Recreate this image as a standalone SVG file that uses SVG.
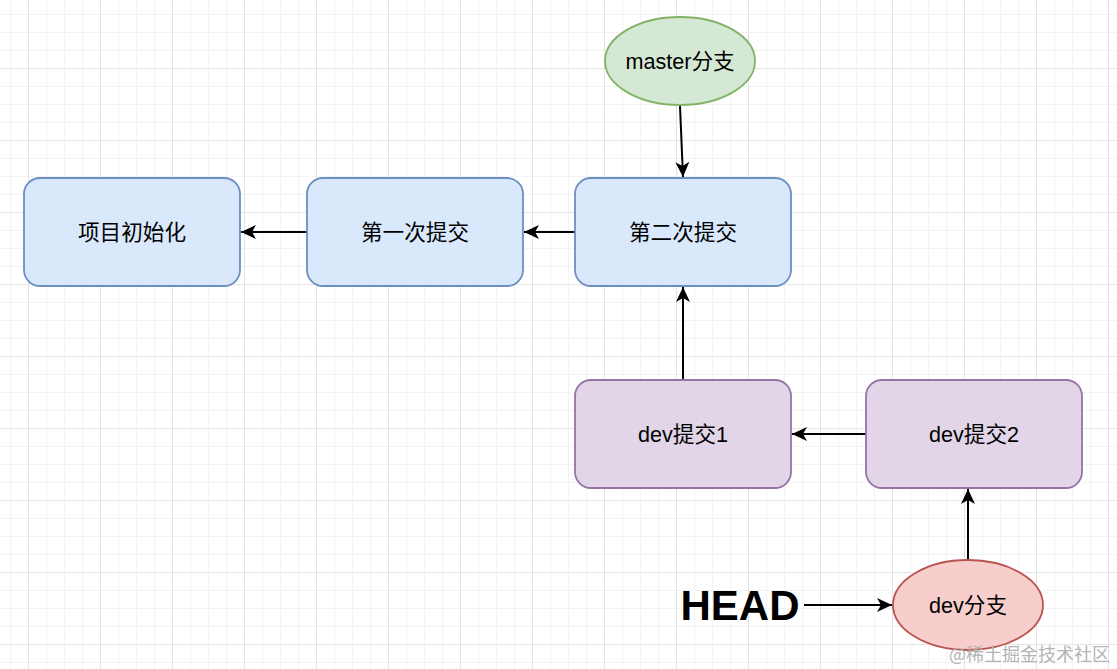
<svg xmlns="http://www.w3.org/2000/svg" width="1117" height="669" viewBox="0 0 1117 669">
<defs>
<pattern id="minor" x="10" y="14" width="18" height="18" patternUnits="userSpaceOnUse">
<path d="M0 0H18M0 0V18" fill="none" stroke="#f0f0f0" stroke-width="1.5"/>
</pattern>
<pattern id="major" x="28" y="-4" width="72" height="72" patternUnits="userSpaceOnUse">
<path d="M0 0H72M0 0V72" fill="none" stroke="#d9d9d9" stroke-width="1.2"/>
</pattern>
<marker id="arr" viewBox="0 0 15 14" refX="15" refY="7" markerWidth="15" markerHeight="14" markerUnits="userSpaceOnUse" orient="auto">
<path d="M0 0L15 7L0 14L4 7Z" fill="#000"/>
</marker>
<style>
.blue{fill:#dae8fc;stroke:#6c8ebf;stroke-width:1.8}
.purple{fill:#e1d5e7;stroke:#9673a6;stroke-width:1.8}
.green{fill:#d5e8d4;stroke:#82b366;stroke-width:1.8}
.red{fill:#f8cecc;stroke:#b85450;stroke-width:1.8}
.lbl{font-family:"Liberation Sans","Noto Sans CJK SC",sans-serif;font-size:21.6px;fill:#000;text-anchor:middle;dominant-baseline:central}
.edge{fill:none;stroke:#000;stroke-width:2;marker-end:url(#arr)}
</style>
</defs>
<rect width="1117" height="669" fill="#ffffff"/>
<rect width="1117" height="669" fill="url(#minor)"/>
<rect width="1117" height="669" fill="url(#major)"/>
<g id="connectors">
<line class="edge" x1="307" y1="232" x2="241" y2="232"/>
<line class="edge" x1="575" y1="232" x2="524" y2="232"/>
<line class="edge" x1="680" y1="106" x2="683" y2="177"/>
<line class="edge" x1="683" y1="380" x2="683" y2="287"/>
<line class="edge" x1="866" y1="434" x2="792" y2="434"/>
<line class="edge" x1="968" y1="560" x2="968" y2="489"/>
<line class="edge" x1="804" y1="605" x2="892" y2="605"/>
</g>
<g id="n1"><rect class="blue" x="24" y="178" width="216" height="108" rx="16"/><text class="lbl" x="132" y="232">项目初始化</text></g>
<g id="n2"><rect class="blue" x="307" y="178" width="216" height="108" rx="16"/><text class="lbl" x="415" y="232">第一次提交</text></g>
<g id="n3"><rect class="blue" x="575" y="178" width="216" height="108" rx="16"/><text class="lbl" x="683" y="232">第二次提交</text></g>
<g id="n4"><rect class="purple" x="575" y="380" width="216" height="108" rx="16"/><text class="lbl" x="683" y="434">dev提交1</text></g>
<g id="n5"><rect class="purple" x="866" y="380" width="216" height="108" rx="16"/><text class="lbl" x="974" y="434">dev提交2</text></g>
<g id="master"><ellipse class="green" cx="680" cy="61" rx="75" ry="44"/><text class="lbl" x="680" y="61">master分支</text></g>
<g id="dev"><ellipse class="red" cx="968" cy="605" rx="75" ry="45"/><text class="lbl" x="968" y="605">dev分支</text></g>
<g id="head"><text x="740" y="605" style="font-family:'Liberation Sans',sans-serif;font-size:42px;font-weight:bold;text-anchor:middle;dominant-baseline:central;fill:#000">HEAD</text></g>
<text x="1110" y="661" style="font-family:'Noto Sans CJK SC',sans-serif;font-size:18px;fill:#b4b4b4;text-anchor:end">@稀土掘金技术社区</text>
</svg>
